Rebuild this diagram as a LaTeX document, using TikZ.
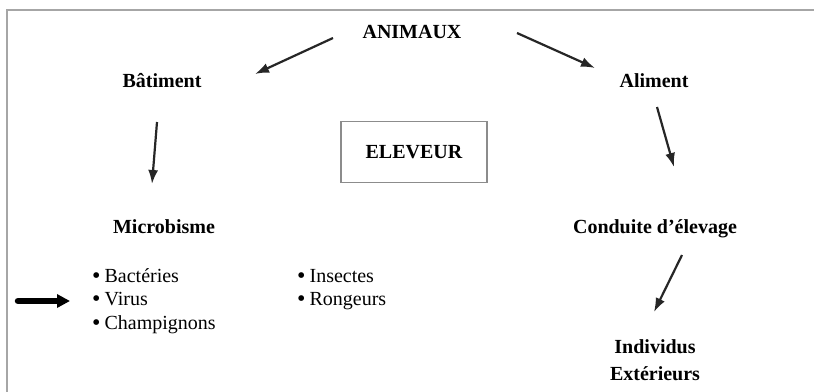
\documentclass[tikz,border=0pt]{standalone}
\usepackage{fontspec}
\setmainfont{Liberation Serif}
\usepackage{tikz}
\usetikzlibrary{arrows.meta}

\newcommand{\puce}{\raisebox{-1.8pt}{\fontsize{24}{24}\selectfont\textbullet}\hspace{4pt}}

\tikzset{
  titre/.style={font=\fontsize{20}{27}\selectfont\bfseries, inner sep=0pt, anchor=base},
  liste/.style={font=\fontsize{20}{24}\selectfont, inner sep=0pt, anchor=base west},
  fleche/.style={line width=2.2pt, draw=black!85, -{Latex[length=14pt,width=10pt]}},
  grosse/.style={line width=6.5pt, line cap=round, -{Triangle[length=13pt,width=13pt]}}
}

\begin{document}
\begin{tikzpicture}[x=1pt, y=-1pt]

\clip (0,0) rectangle (814,391);
\fill[white] (0,0) rectangle (814,391);
\draw[black!35, line width=1.5pt] (7,10) rectangle (830,400); % cadre

\node[titre] (animaux) at (412,38) {ANIMAUX}; % haut
\node[titre] (batiment) at (162,87) {Bâtiment};
\node[titre] (aliment) at (654,87) {Aliment};
\node[titre, draw=black!45, line width=1.5pt, minimum width=146pt, minimum height=61pt, anchor=center] (eleveur) at (414,152) {ELEVEUR};
\node[titre] (microbisme) at (164,233) {Microbisme};
\node[titre] (conduite) at (655,233) {Conduite d'élevage};
\node[titre, align=center] (individus) at (655,380) {Individus\\Extérieurs};

\node[liste] (bacteries) at (92,282) {\puce Bactéries}; % liste gauche
\node[liste] (virus) at (92,305) {\puce Virus};
\node[liste] (champignons) at (92,329) {\puce Champignons};
\node[liste] (insectes) at (297,282) {\puce Insectes}; % liste droite
\node[liste] (rongeurs) at (297,305) {\puce Rongeurs};

\coordinate (a1) at (333,38); \coordinate (b1) at (255,74);
\coordinate (a2) at (517,33); \coordinate (b2) at (595,68);
\coordinate (a3) at (157,122); \coordinate (b3) at (152,184);
\coordinate (a4) at (657,107); \coordinate (b4) at (674,167);
\coordinate (a5) at (682,255); \coordinate (b5) at (654,312);
\coordinate (depart) at (18,301);

\draw[fleche] (a1) -- (b1); % animaux - batiment
\draw[fleche] (a2) -- (b2); % animaux - aliment
\draw[fleche] (a3) -- (b3); % batiment - microbisme
\draw[fleche] (a4) -- (b4); % aliment - conduite
\draw[fleche] (a5) -- (b5); % conduite - individus
\draw[grosse, shorten >=22pt] (depart) -- (virus.west |- depart); % vers virus

\end{tikzpicture}
\end{document}
